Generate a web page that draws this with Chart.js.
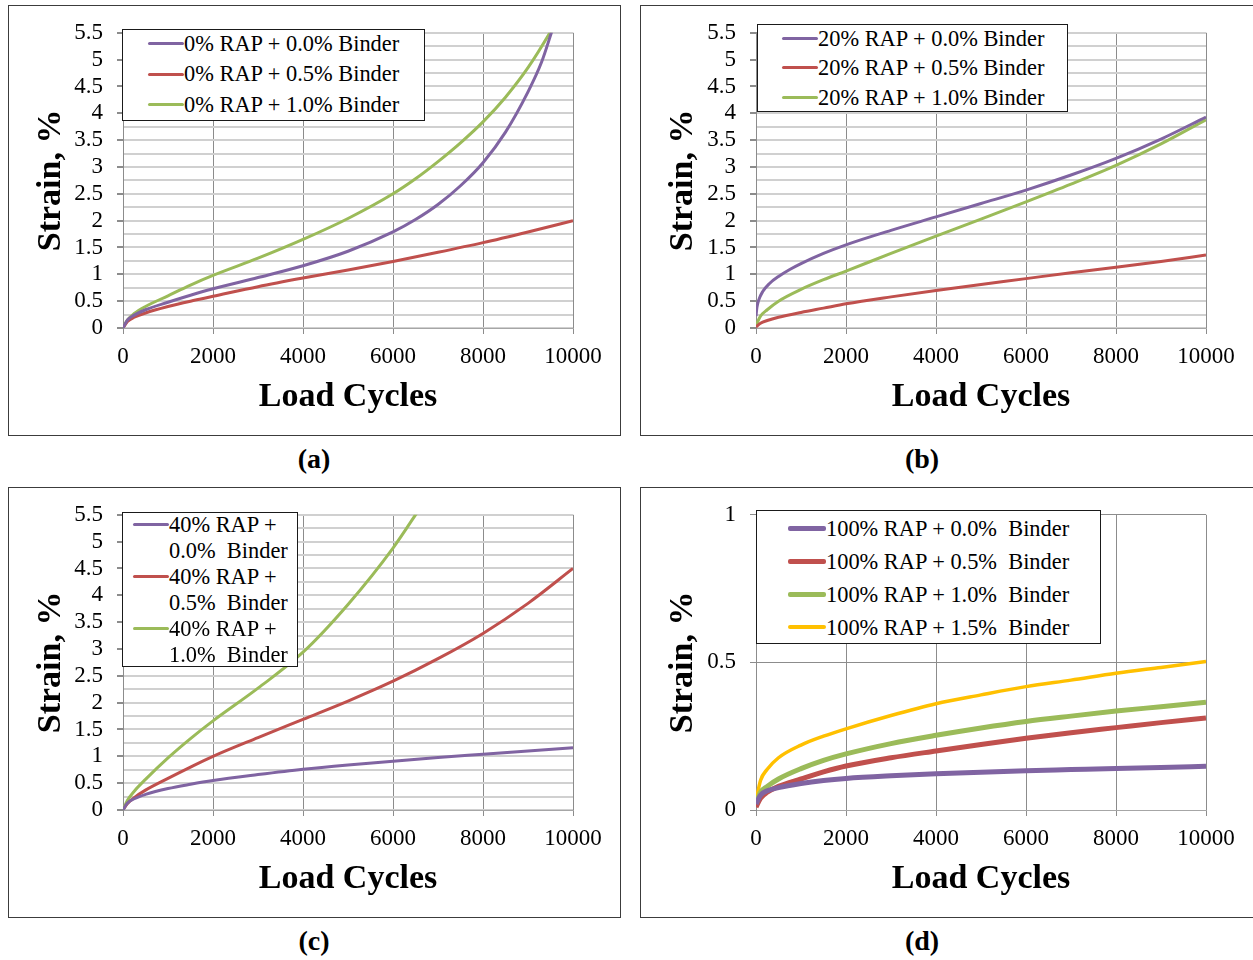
<!DOCTYPE html>
<html>
<head>
<meta charset="utf-8">
<title>Strain vs load cycles</title>
<script src="https://cdn.jsdelivr.net/npm/chart.js@4/dist/chart.umd.min.js"></script>
<style>
body { margin: 0; background: #fff; width: 1253px; height: 960px; position: relative; overflow: hidden;
       font-family: 'Liberation Serif', 'Times New Roman', serif; }
.frame { position: absolute; border: 1px solid #3c3c3c; box-sizing: border-box; }
canvas { position: absolute; }
.legend { position: absolute; background: #fff; border: 1.5px solid #1a1a1a; box-sizing: border-box; }
.legend .item { position: relative; }
.legend .swatch { position: absolute; border-radius: 2px; }
.legend .text { position: absolute; white-space: pre; font-size: 22.4px; color: #000; }
.tag { position: absolute; width: 200px; text-align: center; font-weight: bold; font-size: 28px; line-height: 32px; }
</style>
</head>
<body>

<div class="frame" style="left:8px;top:5px;width:613px;height:431px"></div>
<div class="frame" style="left:640px;top:5px;width:614px;height:431px"></div>
<div class="frame" style="left:8px;top:487px;width:613px;height:431px"></div>
<div class="frame" style="left:640px;top:487px;width:614px;height:431px"></div>

<canvas id="chartA" width="612" height="430" style="left:8px;top:5px"></canvas>
<canvas id="chartB" width="613" height="430" style="left:640px;top:5px"></canvas>
<canvas id="chartC" width="612" height="430" style="left:8px;top:487px"></canvas>
<canvas id="chartD" width="613" height="430" style="left:640px;top:487px"></canvas>

<div class="tag" style="left:214px;top:443px">(a)</div>
<div class="tag" style="left:822px;top:443px">(b)</div>
<div class="tag" style="left:214px;top:925px">(c)</div>
<div class="tag" style="left:822px;top:925px">(d)</div>

<script>
// load cycles sampled along each curve
var cycles = [0, 100, 250, 500, 1000, 1500, 2000, 3000, 4000, 5000, 6000, 7000, 8000, 9000, 10000];

// (a) 0% RAP
var cyclesA0 = [0, 100, 250, 500, 1000, 1500, 2000, 3000, 4000, 5000, 6000, 6500, 7000, 7500, 8000, 8500, 9000, 9300, 9550];
var strainA0 = [0, 0.15, 0.24, 0.34, 0.48, 0.61, 0.73, 0.94, 1.16, 1.43, 1.79, 2.02, 2.3, 2.65, 3.08, 3.65, 4.4, 4.95, 5.58];
var strainA05 = [0, 0.12, 0.2, 0.28, 0.4, 0.5, 0.59, 0.77, 0.93, 1.08, 1.24, 1.41, 1.59, 1.79, 2.0];
var cyclesA10 = [0, 100, 250, 500, 1000, 1500, 2000, 3000, 4000, 5000, 6000, 6500, 7000, 7500, 8000, 8500, 9000, 9500, 9600];
var strainA10 = [0, 0.15, 0.27, 0.4, 0.6, 0.8, 0.98, 1.3, 1.65, 2.04, 2.5, 2.78, 3.1, 3.45, 3.84, 4.3, 4.85, 5.52, 5.67];

// (b) 20% RAP
var cyclesB0 = [0, 20, 60, 150, 300, 500, 750, 1000, 1500, 2000, 3000, 4000, 5000, 6000, 7000, 8000, 9000, 10000];
var strainB0 = [0.22, 0.38, 0.52, 0.68, 0.83, 0.96, 1.09, 1.2, 1.39, 1.55, 1.82, 2.07, 2.32, 2.57, 2.85, 3.16, 3.52, 3.93];
var strainB05 = [0.02, 0.09, 0.14, 0.2, 0.29, 0.37, 0.45, 0.58, 0.7, 0.81, 0.92, 1.03, 1.13, 1.24, 1.36];
var strainB10 = [0.05, 0.22, 0.34, 0.5, 0.72, 0.9, 1.06, 1.39, 1.71, 2.03, 2.35, 2.68, 3.03, 3.43, 3.88];

// (c) 40% RAP
var strainC0 = [0, 0.13, 0.21, 0.29, 0.4, 0.48, 0.55, 0.66, 0.76, 0.84, 0.91, 0.98, 1.04, 1.1, 1.16];
var strainC05 = [0, 0.12, 0.23, 0.37, 0.59, 0.8, 1.0, 1.35, 1.69, 2.03, 2.4, 2.82, 3.29, 3.85, 4.5];
var cyclesC10 = [0, 100, 250, 500, 1000, 1500, 2000, 3000, 4000, 5000, 6000, 6500, 6600];
var strainC10 = [0, 0.18, 0.35, 0.57, 0.97, 1.33, 1.66, 2.27, 2.94, 3.83, 4.88, 5.5, 5.63];

// (d) 100% RAP
var strainD0 = [0.02, 0.05, 0.065, 0.076, 0.09, 0.1, 0.107, 0.116, 0.123, 0.128, 0.133, 0.137, 0.141, 0.144, 0.148];
var strainD05 = [0.01, 0.04, 0.06, 0.08, 0.105, 0.129, 0.149, 0.177, 0.2, 0.222, 0.243, 0.262, 0.279, 0.296, 0.312];
var strainD10 = [0.02, 0.06, 0.08, 0.105, 0.14, 0.168, 0.19, 0.225, 0.253, 0.278, 0.3, 0.318, 0.335, 0.35, 0.365];
var strainD15 = [0.03, 0.1, 0.138, 0.177, 0.22, 0.25, 0.275, 0.32, 0.36, 0.39, 0.418, 0.44, 0.463, 0.483, 0.503];

var PURPLE = '#8064A2', RED = '#C0504D', GREEN = '#9BBB59', GOLD = '#FFC000';
var SERIF = "'Liberation Serif', 'Times New Roman', serif";

Chart.defaults.font.family = SERIF;
Chart.defaults.color = '#000';

function pts(xs, ys) {
    return xs.map(function (x, i) { return {x: x, y: ys[i]}; });
}

function line(label, color, xs, ys, width) {
    return {label: label, data: pts(xs, ys), borderColor: color, backgroundColor: color,
            borderWidth: width || 3, fill: false};
}

function isHalf(v) {
    return Math.abs(v * 2 - Math.round(v * 2)) < 1e-6;
}

function makePanel(id, datasets, yMax, yStep, fineGrid, axisW) {
    return new Chart(document.getElementById(id), {
        type: 'line',
        data: {datasets: datasets},
        options: {
            responsive: false,
            animation: false,
            devicePixelRatio: 1,
            layout: {padding: {top: 22, right: 47, left: 0, bottom: 0}},
            plugins: {legend: {display: false}, tooltip: {enabled: false}},
            elements: {point: {radius: 0}, line: {cubicInterpolationMode: 'monotone'}},
            scales: {
                x: {
                    type: 'linear', min: 0, max: 10000,
                    afterFit: function (s) { s.height = 107; },
                    ticks: {stepSize: 2000, autoSkip: false, maxRotation: 0, padding: 9,
                            font: {size: 23}, color: '#000',
                            callback: function (v) { return String(v); }},
                    grid: {color: '#8c8c8c', lineWidth: 1, tickLength: 6, tickColor: '#8c8c8c'},
                    border: {color: '#a6a6a6', width: 1},
                    title: {display: true, text: 'Load Cycles', color: '#000',
                            font: {size: 34, weight: 'bold'}, padding: {top: 0, bottom: 17}}
                },
                y: {
                    min: 0, max: yMax,
                    afterFit: function (s) { s.width = axisW; },
                    ticks: {stepSize: yStep, autoSkip: false, padding: 14, font: {size: 23}, color: '#000',
                            callback: function (v) { return isHalf(v) ? String(v) : ''; }},
                    grid: {
                        color: fineGrid ? '#d0d0d0' : '#8c8c8c',
                        lineWidth: fineGrid ? 2 : 1,
                        tickLength: 6,
                        tickColor: function (c) { return isHalf(c.tick.value) ? '#8c8c8c' : 'rgba(0,0,0,0)'; }
                    },
                    border: {color: '#8c8c8c', width: 1},
                    title: {display: true, text: 'Strain, %', color: '#000',
                            font: {size: 34, weight: 'bold'}, padding: {top: 23, bottom: 0}}
                }
            }
        }
    });
}

// legend boxes sit over the plot area, built from the chart's own datasets
function legendFor(chart, box) {
    var el = document.createElement('div');
    el.className = 'legend';
    el.style.left = box.left + 'px';
    el.style.top = box.top + 'px';
    el.style.width = box.width + 'px';
    el.style.height = box.height + 'px';
    el.style.paddingTop = (box.padTop || 0) + 'px';
    chart.data.datasets.forEach(function (ds) {
        var lines = ds.label.split('\n').length;
        var item = document.createElement('div');
        item.className = 'item';
        item.style.height = (lines * box.lh) + 'px';
        var sw = document.createElement('div');
        sw.className = 'swatch';
        sw.style.background = ds.borderColor;
        sw.style.left = box.swLeft + 'px';
        sw.style.width = box.swWidth + 'px';
        sw.style.height = ds.borderWidth + 'px';
        sw.style.top = (box.lh / 2 - ds.borderWidth / 2 - 1.5) + 'px';
        var tx = document.createElement('div');
        tx.className = 'text';
        tx.style.left = box.textLeft + 'px';
        tx.style.top = '-1.5px';
        tx.style.lineHeight = box.lh + 'px';
        tx.textContent = ds.label;
        item.appendChild(sw);
        item.appendChild(tx);
        el.appendChild(item);
    });
    document.body.appendChild(el);
}

var chartA = makePanel('chartA', [
    line('0% RAP + 0.0% Binder', PURPLE, cyclesA0, strainA0),
    line('0% RAP + 0.5% Binder', RED, cycles, strainA05),
    line('0% RAP + 1.0% Binder', GREEN, cyclesA10, strainA10)
], 5.5, 0.25, true, 115);

var chartB = makePanel('chartB', [
    line('20% RAP + 0.0% Binder', PURPLE, cyclesB0, strainB0),
    line('20% RAP + 0.5% Binder', RED, cycles, strainB05),
    line('20% RAP + 1.0% Binder', GREEN, cycles, strainB10)
], 5.5, 0.25, true, 116);

var chartC = makePanel('chartC', [
    line('40% RAP +\n0.0%  Binder', PURPLE, cycles, strainC0),
    line('40% RAP +\n0.5%  Binder', RED, cycles, strainC05),
    line('40% RAP +\n1.0%  Binder', GREEN, cyclesC10, strainC10)
], 5.5, 0.25, true, 115);

var chartD = makePanel('chartD', [
    line('100% RAP + 0.0%  Binder', PURPLE, cycles, strainD0, 5),
    line('100% RAP + 0.5%  Binder', RED, cycles, strainD05, 5),
    line('100% RAP + 1.0%  Binder', GREEN, cycles, strainD10, 5),
    line('100% RAP + 1.5%  Binder', GOLD, cycles, strainD15, 3.5)
], 1, 0.5, false, 116);

legendFor(chartA, {left: 122, top: 29, width: 303, height: 92, lh: 30.5, swLeft: 25, swWidth: 36, textLeft: 61});
legendFor(chartB, {left: 757, top: 24, width: 311, height: 88, lh: 29.5, swLeft: 24, swWidth: 36, textLeft: 60});
legendFor(chartC, {left: 122, top: 512, width: 176, height: 155, lh: 26, swLeft: 10, swWidth: 36, textLeft: 46});
legendFor(chartD, {left: 756, top: 510, width: 345, height: 134, lh: 33, padTop: 2, swLeft: 31, swWidth: 38, textLeft: 69});
</script>
</body>
</html>
